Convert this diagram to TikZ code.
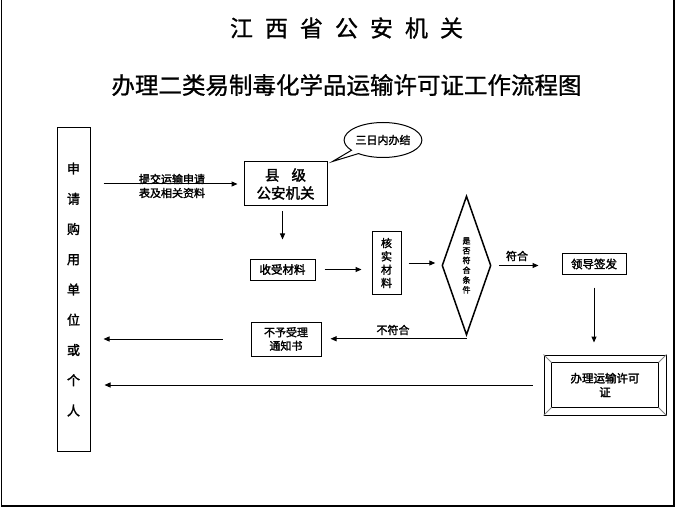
\documentclass[tikz,border=0pt]{standalone}
\usepackage{fontspec}
\usepackage{tikz}
\usetikzlibrary{arrows.meta,shapes.geometric,shapes.callouts}
\newfontfamily\cjk[FakeBold=1]{Noto Sans CJK SC}
\newfontfamily\cjkb[FakeBold=2]{Noto Sans CJK SC}
\tikzset{
  fbox/.style={
    rectangle,
    draw,
    line width=1pt,
    inner sep=0pt,
    align=center,
    font=\fontsize{11.5pt}{14pt}\selectfont\cjkb
  },
  flow/.style={
    -{Triangle[length=6pt,width=5pt]},
    line width=1pt
  },
  flowlabel/.style={
    font=\fontsize{11pt}{14pt}\selectfont\cjkb,
    align=center,
    inner sep=0pt
  }
}

\begin{document}
\begin{tikzpicture}[x=1pt,y=-1pt]
  \useasboundingbox (0,0) rectangle (676,510);
  \draw[line width=1.5pt] (1.5,0) -- (1.5,506) -- (674,506) -- (674,0);

  % titles
  \node[font=\fontsize{23pt}{23pt}\selectfont\cjk] (title1) at (346.5,28)
    {江\hspace{12pt}西\hspace{12pt}省\hspace{12pt}公\hspace{12pt}安\hspace{12pt}机\hspace{12pt}关};
  \node[font=\fontsize{23.5pt}{23.5pt}\selectfont\cjk] (title2) at (346.5,85)
    {办理二类易制毒化学品运输许可证工作流程图};

  \node[fbox, minimum width=33pt, minimum height=323pt,
        font=\fontsize{13pt}{30.25pt}\selectfont\cjkb] (app) at (73.5,289.5)
    {申\\请\\购\\用\\单\\位\\或\\个\\人};
  \node[fbox, minimum width=83pt, minimum height=44pt,
        font=\fontsize{14.5pt}{18pt}\selectfont\cjkb] (cty) at (285.5,184)
    {县\hspace{12pt}级\\公安机关};
  \node[fbox, minimum width=65pt, minimum height=21pt] (recv) at (282.5,269.5) {收受材料};
  \node[fbox, minimum width=29pt, minimum height=62pt,
        font=\fontsize{11pt}{13.3pt}\selectfont\cjkb] (chk) at (386.5,263) {核\\实\\材\\料};
  \node[diamond, draw, line width=1.5pt, aspect=0.35, minimum width=49pt, minimum height=139pt,
        inner sep=0pt, align=center, font=\fontsize{8pt}{9.8pt}\selectfont\cjkb] (cond) at (466.5,265.5)
    {是\\否\\符\\合\\条\\件};
  \node[fbox, minimum width=64pt, minimum height=20pt] (lead) at (594,264) {领导签发};
  \node[fbox, minimum width=70pt, minimum height=34pt,
        font=\fontsize{11pt}{13.5pt}\selectfont\cjkb] (rej) at (286,339) {不予受理\\通知书};

  % bevelled box
  \node[fbox, minimum width=122pt, minimum height=60pt] (lic) at (605,385) {办理运输许可\\证};
  \draw[line width=1pt] ([xshift=8pt,yshift=-8pt]lic.north west) rectangle ([xshift=-8pt,yshift=8pt]lic.south east);
  \foreach \c/\dx/\dy in {north west/8/-8, north east/-8/-8, south west/8/8, south east/-8/8}
    \draw[gray, line width=0.8pt] (lic.\c) -- ([xshift=\dx pt,yshift=\dy pt]lic.\c);

  \node[ellipse callout, draw, line width=1pt, minimum width=76pt, minimum height=35pt, inner sep=0pt,
        font=\fontsize{11pt}{14pt}\selectfont\cjkb,
        callout absolute pointer={([xshift=5pt]cty.north east)}] (note) at (383,140) {三日内办结};

  % flow
  \draw[flow, shorten <=13pt, shorten >=6pt] (app.east |- cty.west) -- (cty.west);
  \node[flowlabel] (sub) at (172,186) {提交运输申请\\表及相关资料};
  \draw[flow, shorten <=5pt, shorten >=19pt] (cty.south -| recv.north) -- (recv.north);
  \draw[flow, shorten <=9pt, shorten >=10pt] (recv.east) -- (recv.east -| chk.west);
  \draw[flow, shorten <=7pt, shorten >=6pt] (chk.east) -- (chk.east -| cond.west);
  \draw[flow, shorten <=7pt, shorten >=23pt] (cond.east) -- (cond.east -| lead.west);
  \node[flowlabel] (yes) at (517,256) {符合};
  \draw[flow, shorten <=13pt, shorten >=12pt] (lead.south) -- (lead.south |- lic.north);
  \draw[flow, shorten >=9pt] ([yshift=-3pt]cond.south) -- ([yshift=-3pt]cond.south -| rej.east);
  \node[flowlabel] (no) at (393,330) {不符合};
  \draw[flow, shorten <=28pt, shorten >=13pt] (rej.west) -- (rej.west -| app.east);
  \draw[flow, shorten <=11pt, shorten >=14pt] (lic.west) -- (lic.west -| app.east);
\end{tikzpicture}
\end{document}
